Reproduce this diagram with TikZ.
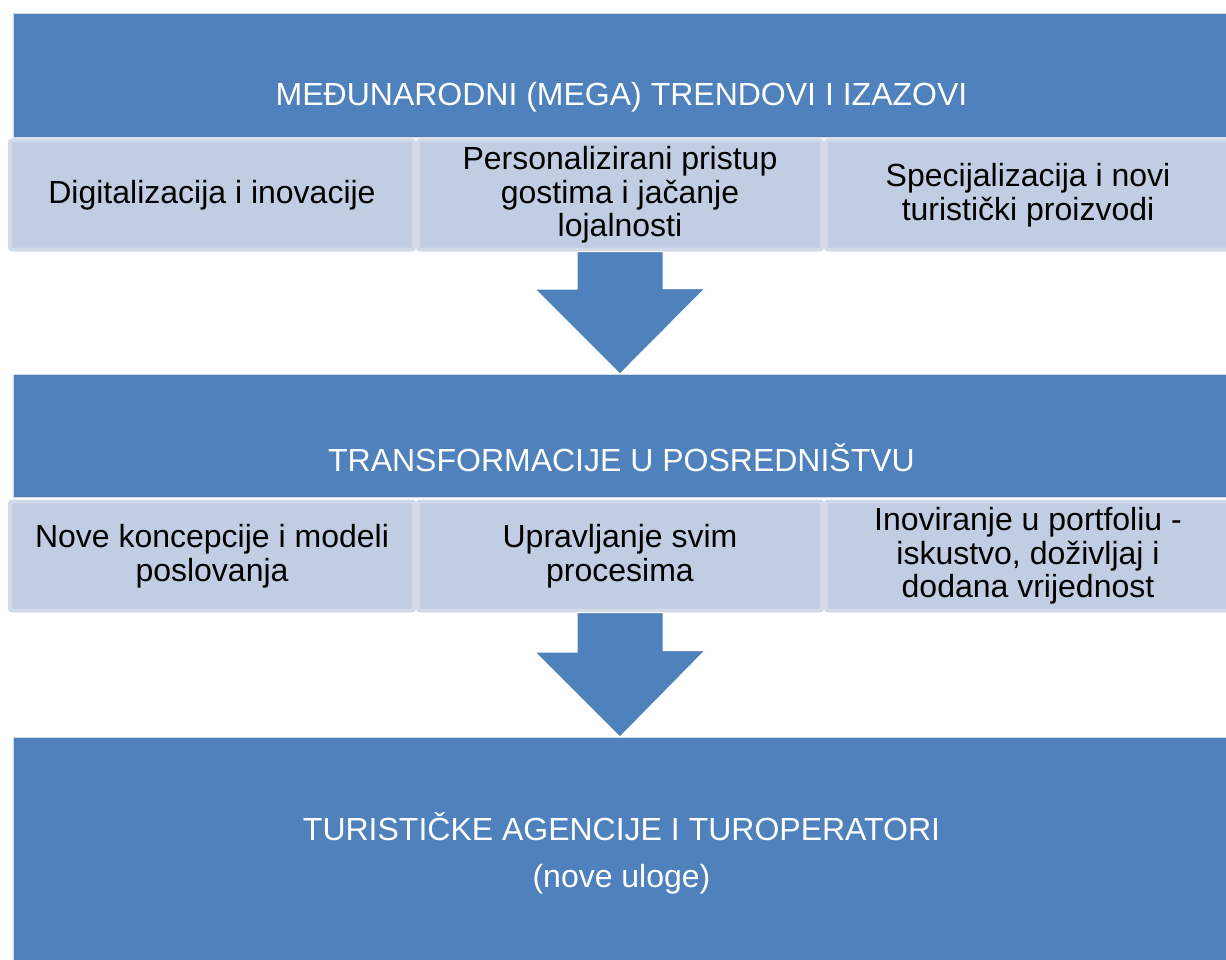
\documentclass[tikz,border=0pt]{standalone}
\usepackage{fontspec}
\setmainfont{Liberation Sans}
\usetikzlibrary{positioning}
\definecolor{blau}{HTML}{4F81BD}
\definecolor{hellblau}{HTML}{C0CDE2}
\definecolor{rand}{HTML}{D2D9E9}
\tikzstyle{band}=[fill=blau, draw=rand, line width=.8pt, minimum width=1217pt, inner sep=0pt, outer sep=0pt, anchor=north west]
\tikzstyle{titel}=[text=white, font=\fontsize{32}{47}\selectfont, align=center, inner sep=0pt]
\tikzstyle{feld}=[fill=hellblau, draw=rand, line width=4pt, rounded corners=2pt, minimum width=404pt, minimum height=109pt, inner sep=0pt, outer sep=2pt, align=center, font=\fontsize{32}{33.5}\selectfont]
\tikzstyle{pfeil}=[fill=blau, draw=white, line width=1pt]

\begin{document}
\begin{tikzpicture}[x=1pt, y=-1pt]
			\useasboundingbox (0,0) rectangle (1226,960);
			% Baender zeichnen
			\node[band, minimum height=124pt] (b1) at (13,13) {};
			\node[band, minimum height=123pt] (b2) at (13,374) {};
			\node[band, minimum height=230pt] (b3) at (13,737) {};
			% Titel
			\node[titel] (t1) at ([yshift=40pt]b1.south) {ME\DJ UNARODNI (MEGA) TRENDOVI I IZAZOVI};
			\node[titel] (t2) at ([yshift=39pt]b2.south) {TRANSFORMACIJE U POSREDNIŠTVU};
			\node[titel] (t3) at ([yshift=-116pt]b3.north) {TURISTIČKE AGENCIJE I TUROPERATORI\\(nove uloge)};
			% Felder oben
			\node[feld] (f1) at (212,195) {Digitalizacija i inovacije};
			\node[feld, right=0pt of f1] (f2) {Personalizirani pristup\\gostima i jačanje\\lojalnosti};
			\node[feld, right=0pt of f2] (f3) {Specijalizacija i novi\\turistički proizvodi};
			% Felder unten
			\node[feld] (g1) at (212,556) {Nove koncepcije i modeli\\poslovanja};
			\node[feld, right=0pt of g1] (g2) {Upravljanje svim\\procesima};
			\node[feld, right=0pt of g2] (g3) {Inoviranje u portfoliu -\\iskustvo, doživljaj i\\dodana vrijednost};
			% Pfeile zeichnen
			\draw[pfeil] (f2.south) ++(-43,0) -- ++(86,0) -- ++(0,37) -- ++(42,0) -- (f2.south |- b2.north) -- ++(-85,-85) -- ++(42,0) -- cycle;
			\draw[pfeil] (g2.south) ++(-43,0) -- ++(86,0) -- ++(0,38) -- ++(42,0) -- (g2.south |- b3.north) -- ++(-85,-85) -- ++(42,0) -- cycle;
		\end{tikzpicture}
\end{document}
